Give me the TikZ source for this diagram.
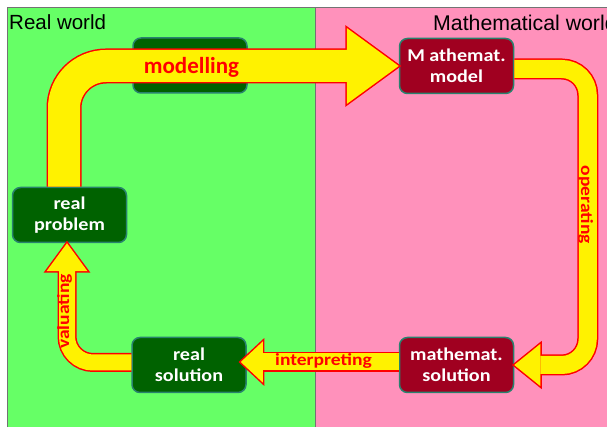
\documentclass[tikz,border=0pt]{standalone}
\usepackage{fontspec}
\setmainfont{Liberation Sans}
\newfontfamily\boxfont[FakeStretch=1.12]{Carlito}
\newfontfamily\lblfont[FakeStretch=1.15]{Carlito}
\newfontfamily\bigfont{Carlito}

\definecolor{bggreen}{RGB}{102,255,102}
\definecolor{bgpink}{RGB}{255,145,187}
\definecolor{darkgreen}{RGB}{0,98,0}
\definecolor{darkred}{RGB}{160,0,32}
\definecolor{boxrim}{RGB}{40,130,110}

\tikzset{
  pics/headline/.style 2 args={code={
    \draw[red, line width=3pt, line join=miter] (0,0) -- (-#1,#2) -- (-#1,-#2) -- cycle;}},
  pics/headfill/.style 2 args={code={
    \fill[yellow] (0,0) -- (-#1,#2) -- (-#1,-#2) -- cycle;}},
}

\begin{document}
\begin{tikzpicture}[x=1pt, y=1pt,
  world/.style={inner sep=0pt, font=\fontsize{20.5}{24}\selectfont},
  gbox/.style={draw=boxrim, line width=1.5pt, fill=darkgreen, rounded corners=8pt,
    minimum width=114pt, minimum height=55pt, inner sep=0pt, text=white, align=center,
    font=\boxfont\bfseries\fontsize{18}{21}\selectfont},
  rbox/.style={gbox, fill=darkred},
  lbl/.style={text=red, inner sep=0pt, font=\lblfont\bfseries\fontsize{17}{19}\selectfont},
  band/.style={draw=yellow, line width=#1, preaction={draw=red, line width=#1+3pt}}]
  \clip (0,0) rectangle (607,427);
  \fill[white] (0,0) rectangle (607,427);
  % the two worlds
  \draw[fill=bggreen, draw=black!55] (7,-5) rectangle (315,420);
  \draw[fill=bgpink, draw=black!55] (315,-5) rectangle (625,420);
  \node[world, anchor=base west] (real) at (9,397) {Real world};
  \node[world, anchor=base west, font=\fontsize{21.3}{25}\selectfont] (math) at (433,396) {Mathematical world};

  % boxes
  \node[gbox] (blank) at (190,361.5) {};
  \node[rbox] (model) at (456.5,361) {M athemat.\\model};
  \node[gbox] (prob) at (69.5,212) {real\\problem};
  \node[gbox] (rsol) at (189,62) {real\\solution};
  \node[rbox] (msol) at (456.5,62) {mathemat.\\solution};

  % modelling
  \pic at (model.west) {headline={52}{38}};
  \draw[band=32pt, rounded corners=42pt] ([xshift=-5.5pt]prob.north) |- ([xshift=-52pt]model.west);
  \pic at (model.west) {headfill={52}{38}};
  \node[text=red, inner sep=0pt, anchor=base, font=\bigfont\bfseries\fontsize{23}{26}\selectfont]
    (modlbl) at (191.5,353) {modelling};

  % operating
  \pic[rotate=180] at (msol.east) {headline={26}{21}};
  \draw[band=18pt, rounded corners=26pt] ([yshift=-3pt]model.east) -| ([xshift=73.5pt]msol.east)
    -- ([xshift=26pt]msol.east);
  \pic[rotate=180] at (msol.east) {headfill={26}{21}};
  \node[lbl, rotate=-90, anchor=base] (oplbl) at (581,222) {operating};

  % interpreting
  \pic[rotate=180] at ([xshift=-6pt,yshift=3pt]rsol.east) {headline={22}{20.5}};
  \draw[band=17pt] ([yshift=3pt]msol.west) -- ([xshift=16pt,yshift=3pt]rsol.east);
  \pic[rotate=180] at ([xshift=-6pt,yshift=3pt]rsol.east) {headfill={22}{20.5}};
  \node[lbl, anchor=base] (inlbl) at (323.5,61) {interpreting};

  % valuating
  \pic[rotate=90] at ([xshift=-2.5pt]prob.south) {headline={28}{20.5}};
  \draw[band=16pt, rounded corners=26pt] ([yshift=2.5pt]rsol.west) -| ([xshift=-2.5pt,yshift=-28pt]prob.south);
  \pic[rotate=90] at ([xshift=-2.5pt]prob.south) {headfill={28}{20.5}};
  \node[lbl, rotate=90, anchor=base] (valbl) at (69,115.5) {valuating};
\end{tikzpicture}
\end{document}
